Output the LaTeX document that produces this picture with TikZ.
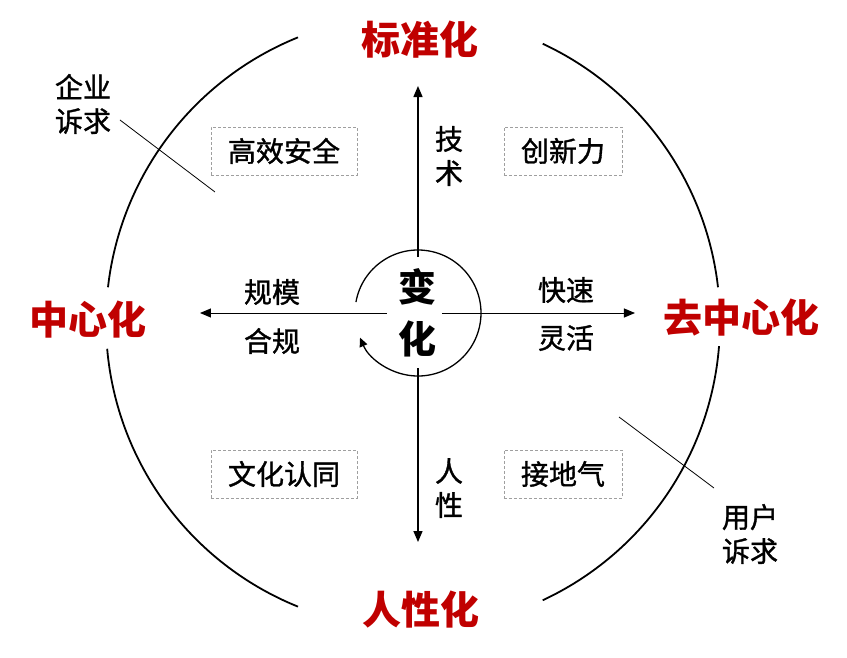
\documentclass[tikz,border=0pt]{standalone}
\usepackage{fontspec}
\setmainfont{Noto Sans CJK SC}
\newfontfamily\tagfont[FakeBold=1.2]{Noto Sans CJK SC}
\usetikzlibrary{arrows.meta,positioning}
\definecolor{polered}{RGB}{192,0,0}

\begin{document}
\begin{tikzpicture}[x=1pt,y=1pt,
    ring/.style={line width=1.8pt},
    axis/.style={-{Triangle[length=11pt,width=9pt]}},
    pole/.style={text=polered,font=\bfseries\fontsize{39}{39}\selectfont,inner sep=0pt},
    tag/.style={font=\tagfont\fontsize{28}{34}\selectfont,align=center,inner sep=0pt},
    valuebox/.style={tag,draw=gray!75,line width=0.6pt,dash pattern=on 3pt off 2pt,
      inner xsep=17pt,minimum height=48pt}]
  \useasboundingbox (-413,-335) rectangle (434,322);
  % outer ring, broken at the four poles
  \foreach \a/\b in {6.5/65,112/173.5,185/248,295/355.5}
    \draw[ring] (\a:307pt) arc[start angle=\a,end angle=\b,radius=307pt];
  \node[pole] (std) at (7,282) {标准化};
  \node[pole] (decen) at (329,4) {去中心化};
  \node[pole] (cen) at (-325,2) {中心化};
  \node[pole] (hum) at (8,-288) {人性化};
  % quadrants
  \node[valuebox] (safe) at (-129,171) {高效安全};
  \node[valuebox] (innov) at (150,171) {创新力};
  \node[valuebox] (culture) at (-129,-152) {文化认同};
  \node[valuebox] (ground) at (150,-152) {接地气};
  % centre
  \coordinate (o) at (5,9);
  \node[font=\bfseries\fontsize{38}{52}\selectfont,align=center,inner sep=0pt] (change) at (o) {变\\化};
  \draw[line width=1.3pt,-{Triangle[length=9pt,width=8pt]}]
    ([shift={(170:63pt)}]o) arc[start angle=170,end angle=-157,radius=63pt];
  \coordinate (tN0) at (5,65);   \coordinate (tN) at (5,236);
  \coordinate (tS0) at (5,-46);  \coordinate (tS) at (5,-220);
  \coordinate (tW0) at (-26,9);  \coordinate (tW) at (-213,9);
  \coordinate (tE0) at (29,9);   \coordinate (tE) at (222,9);
  \draw[axis,line width=1.5pt] (tN0) -- (tN);
  \draw[axis,line width=1.5pt] (tS0) -- (tS);
  \draw[axis,line width=1pt] (tW0) -- (tW);
  \draw[axis,line width=1pt] (tE0) -- (tE);
  \node[tag] (tech) at (36,166) {技\\术};
  \node[tag] (nature) at (36,-166) {人\\性};
  \node[tag] (scale) at (-141,30) {规模};
  \node[tag] (comply) at (-141,-19) {合规};
  \node[tag] (fast) at (153,32) {快速};
  \node[tag] (agile) at (153,-16) {灵活};
  % the two demands
  \node[tag] (firm) at (-330,218) {企业\\诉求};
  \node[tag] (user) at (337,-212) {用户\\诉求};
  \coordinate (firmA) at (-293,202); \coordinate (firmB) at (-198,130);
  \coordinate (userA) at (206,-95);  \coordinate (userB) at (301,-166);
  \draw[line width=0.8pt] (firmA) -- (firmB);
  \draw[line width=0.8pt] (userA) -- (userB);
\end{tikzpicture}
\end{document}
